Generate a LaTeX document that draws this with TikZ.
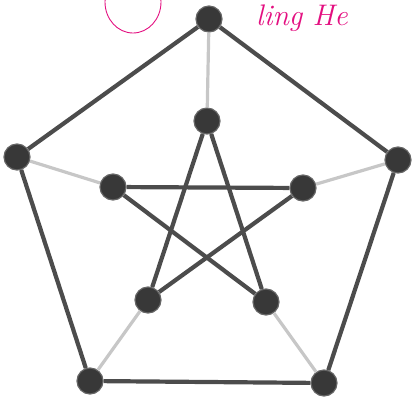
\documentclass[tikz,border=0pt]{standalone}
\begin{document}
\begin{tikzpicture}[x=1bp, y=-1bp,
    V/.style={circle, fill=black!78, draw=black!60, line width=1.2pt,
              minimum size=26bp, inner sep=0pt},
    E/.style={draw=black!70, line width=4.2bp},
    S/.style={draw=black!22, line width=3.2bp}]
  \useasboundingbox (0,0) rectangle (415,398);
  \begin{scope}
  \clip (0,0) rectangle (415,398);
  % --- kenardaki el yazisi ---
  \draw[magenta!80!purple, line width=0.9pt] (133,2) ellipse (28 and 31);
  \end{scope}
  \node[magenta!80!purple, font=\itshape\Huge, scale=1.2, anchor=base west] (yazi) at (252,25) {ling He};

  % --- Dis besgen ---
  \node[V] (o1) at (209,19)  {};
  \node[V] (o2) at (398,160) {};
  \node[V] (o3) at (324,383) {};
  \node[V] (o4) at (90,381)  {};
  \node[V] (o5) at (17,157)  {};
  % --- Ic yildiz ---
  \node[V] (i1) at (207,121) {};
  \node[V] (i2) at (303,188) {};
  \node[V] (i3) at (266,302) {};
  \node[V] (i4) at (148,300) {};
  \node[V] (i5) at (113,187) {};

  % --- Dis cevrim ---
  \foreach \a/\b in {o1/o2, o2/o3, o3/o4, o4/o5, o5/o1}
    \path[E] (\a) -- (\b);
  % --- Yildiz kenarlari ---
  \foreach \a/\b in {i1/i3, i3/i5, i5/i2, i2/i4, i4/i1}
    \path[E] (\a) -- (\b);
  % --- Parmaklar ---
  \foreach \k in {1,...,5}
    \path[S] (o\k) -- (i\k);
\end{tikzpicture}
\end{document}
